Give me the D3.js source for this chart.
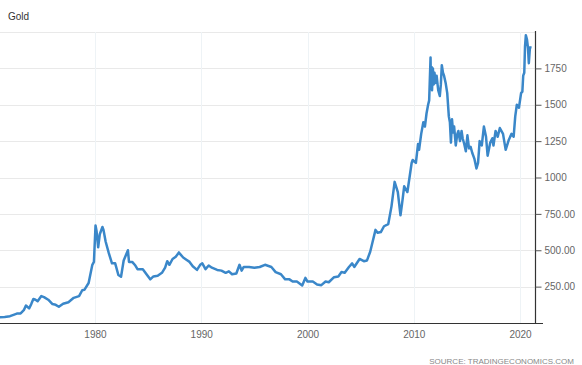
<!DOCTYPE html>
<meta charset="utf-8">
<html>
  <head>
    <title>Gold</title>
    <script src="https://d3js.org/d3.v7.min.js"></script>
    <style>
      body {
        margin: 0;
        font-family: "Liberation Sans", Arial, sans-serif;
        background: #fff;
      }
      .grid-h { stroke: #e9e9e9; stroke-width: 1px; }
      .grid-v { stroke: #eef3f6; stroke-width: 1px; }
      .axis-label { fill: #666; font-size: 10px; }
      .price-line {
        fill: none;
        stroke: #3a87c9;
        stroke-width: 2.5px;
        stroke-linejoin: round;
      }
    </style>
  </head>
  <body>
    <svg id="chart" width="582" height="365"></svg>

    <script>
      // Gold price (year, USD/oz)
      const years = [
        1971.0, 1971.5, 1972.0, 1972.4, 1972.7, 1973.0, 1973.3, 1973.5, 1973.8, 1974.0,
        1974.2, 1974.4, 1974.6, 1974.95, 1975.2, 1975.6, 1976.0, 1976.3, 1976.6, 1977.0,
        1977.5, 1978.0, 1978.5, 1978.8, 1979.0, 1979.4, 1979.75, 1979.9, 1980.05, 1980.15,
        1980.3, 1980.45, 1980.7, 1980.8, 1981.0, 1981.3, 1981.6, 1981.9, 1982.2, 1982.45,
        1982.7, 1983.1, 1983.2, 1983.5, 1983.8, 1984.0, 1984.5, 1984.9, 1985.2, 1985.5,
        1985.9, 1986.3, 1986.6, 1986.8, 1987.0, 1987.3, 1987.6, 1987.9, 1988.0, 1988.3,
        1988.6, 1988.9, 1989.2, 1989.6, 1989.9, 1990.1, 1990.4, 1990.7, 1991.0, 1991.5,
        1991.9, 1992.3, 1992.6, 1992.9, 1993.3, 1993.6, 1993.8, 1994.0, 1994.5, 1995.0,
        1995.5, 1996.0, 1996.2, 1996.6, 1997.0, 1997.5, 1997.9, 1998.3, 1998.6, 1999.0,
        1999.5, 1999.8, 2000.0, 2000.5, 2000.9, 2001.3, 2001.7, 2002.0, 2002.5, 2002.9,
        2003.2, 2003.5, 2003.9, 2004.2, 2004.4, 2004.9, 2005.3, 2005.6, 2005.9, 2006.1,
        2006.4, 2006.6, 2006.9, 2007.2, 2007.6, 2007.9, 2008.2, 2008.5, 2008.75, 2008.9,
        2009.1, 2009.4, 2009.8, 2009.9, 2010.2, 2010.4, 2010.5, 2010.7, 2010.9, 2011.05,
        2011.2, 2011.35, 2011.45, 2011.58, 2011.62, 2011.68, 2011.72, 2011.8, 2011.88, 2011.95,
        2012.05, 2012.15, 2012.3, 2012.45, 2012.55, 2012.64, 2012.75, 2012.85, 2013.0, 2013.15,
        2013.3, 2013.4, 2013.5, 2013.6, 2013.7, 2013.8, 2013.95, 2014.1, 2014.2, 2014.35,
        2014.5, 2014.6, 2014.75, 2014.9, 2015.05, 2015.2, 2015.35, 2015.5, 2015.7, 2015.9,
        2016.05, 2016.2, 2016.4, 2016.6, 2016.8, 2016.95, 2017.2, 2017.4, 2017.5, 2017.7,
        2017.9, 2018.1, 2018.4, 2018.65, 2018.95, 2019.2, 2019.4, 2019.55, 2019.7, 2019.9,
        2020.1, 2020.22, 2020.3, 2020.4, 2020.47, 2020.55, 2020.65, 2020.75, 2020.83, 2020.92,
        2021.0
      ];
      const prices = [
        40, 42, 47, 58, 66, 66, 88, 120, 100, 130,
        165, 160, 150, 185, 178, 160, 130, 125, 112, 132,
        143, 173, 185, 225, 228, 275, 400, 420, 670, 630,
        520, 610, 660, 640, 560, 480, 410, 410, 330, 318,
        430, 500, 420, 420, 395, 370, 370, 330, 300, 320,
        325, 345, 380, 425, 400, 440, 455, 485, 475, 450,
        435, 420, 390, 365, 400, 410, 370, 395, 380, 365,
        360, 345, 355, 335, 340, 400, 360, 385, 385, 380,
        385, 400, 395, 385, 350, 335, 300, 300, 285, 285,
        258, 310, 285, 285, 265, 260, 285, 280, 315, 320,
        350, 345, 385, 410, 385, 440, 425, 430, 490, 550,
        640, 620, 625, 665, 680, 800, 970, 900, 740, 820,
        940, 900, 1100, 1120, 1100, 1230, 1190, 1300, 1380, 1350,
        1440, 1500, 1530, 1825, 1620, 1760, 1600, 1750, 1640, 1720,
        1650, 1700, 1600, 1560, 1640, 1772, 1720, 1700, 1650, 1580,
        1420, 1380, 1240, 1400, 1310, 1350, 1220, 1300, 1320, 1250,
        1320, 1270, 1230, 1180, 1290, 1200, 1210, 1170, 1130, 1062,
        1100, 1250, 1220, 1350, 1280, 1150, 1240, 1270, 1220, 1320,
        1280, 1340, 1300, 1190, 1260, 1300, 1280, 1420, 1500, 1480,
        1580, 1590, 1700, 1720, 1900, 1978, 1950, 1890, 1786, 1880,
        1902
      ];
      const xTicks = [1980, 1990, 2000, 2010, 2020];
      const yTicks = [250, 500, 750, 1000, 1250, 1500, 1750];

      const data = years.map((y, i) => ({ year: y, value: prices[i] }));

      const plotLeft = 0, plotRight = 535, plotTop = 32, plotBottom = 323;

      const svg = d3.select("#chart");

      const x = d3.scaleLinear()
                  .domain([1971.06, 2021.41])
                  .range([plotLeft, plotRight]);

      const y = d3.scaleLinear()
                  .domain([0, 2000])
                  .range([plotBottom, plotTop]);

      // grid
      svg.append("g")
         .selectAll("line")
         .data(yTicks.concat([2000]))
         .enter()
         .append("line")
           .attr("class", "grid-h")
           .attr("x1", plotLeft)
           .attr("x2", plotRight)
           .attr("y1", d => Math.round(y(d)) + 0.5)
           .attr("y2", d => Math.round(y(d)) + 0.5);

      svg.append("g")
         .selectAll("line")
         .data(xTicks)
         .enter()
         .append("line")
           .attr("class", "grid-v")
           .attr("x1", d => Math.round(x(d)) + 0.5)
           .attr("x2", d => Math.round(x(d)) + 0.5)
           .attr("y1", plotTop)
           .attr("y2", plotBottom);

      // clip so the line starts at the left edge
      svg.append("clipPath")
         .attr("id", "plot-clip")
         .append("rect")
           .attr("x", plotLeft)
           .attr("y", 0)
           .attr("width", plotRight - plotLeft)
           .attr("height", plotBottom);

      const line = d3.line()
                     .x(d => x(d.year))
                     .y(d => y(d.value));

      svg.append("path")
         .datum(data)
         .attr("class", "price-line")
         .attr("clip-path", "url(#plot-clip)")
         .attr("d", line);

      // bottom axis
      const xAxis = svg.append("g")
         .attr("transform", `translate(0,${plotBottom})`)
         .call(d3.axisBottom(x).tickValues(xTicks).tickFormat(d3.format("d")).tickSize(0).tickPadding(8));
      xAxis.select(".domain").remove();
      xAxis.selectAll("text").attr("class", "axis-label").attr("fill", null);

      svg.append("line")
         .attr("x1", plotLeft)
         .attr("x2", 543)
         .attr("y1", plotBottom + 0.5)
         .attr("y2", plotBottom + 0.5)
         .attr("stroke", "#333")
         .attr("stroke-width", 1.2);

      // right axis
      const yAxis = svg.append("g")
         .attr("transform", `translate(${plotRight + 0.5},0)`)
         .call(d3.axisRight(y)
                 .tickValues(yTicks)
                 .tickSize(6)
                 .tickPadding(3)
                 .tickFormat(d => d >= 1000 ? String(d) : d.toFixed(2)));
      yAxis.select(".domain")
           .attr("d", `M0,${plotTop - 1}V${plotBottom}`)
           .attr("stroke", "#333")
           .attr("stroke-width", 1.2);
      yAxis.selectAll(".tick line").attr("stroke", "#555");
      yAxis.selectAll("text").attr("class", "axis-label").attr("fill", null);

      // title and source
      svg.append("text")
         .attr("x", 8)
         .attr("y", 20)
         .attr("fill", "#333")
         .attr("font-size", "10px")
         .text("Gold");

      svg.append("text")
         .attr("x", 574)
         .attr("y", 364)
         .attr("text-anchor", "end")
         .attr("fill", "#888")
         .attr("font-size", "8px")
         .text("SOURCE: TRADINGECONOMICS.COM");
    </script>
  </body>
</html>
